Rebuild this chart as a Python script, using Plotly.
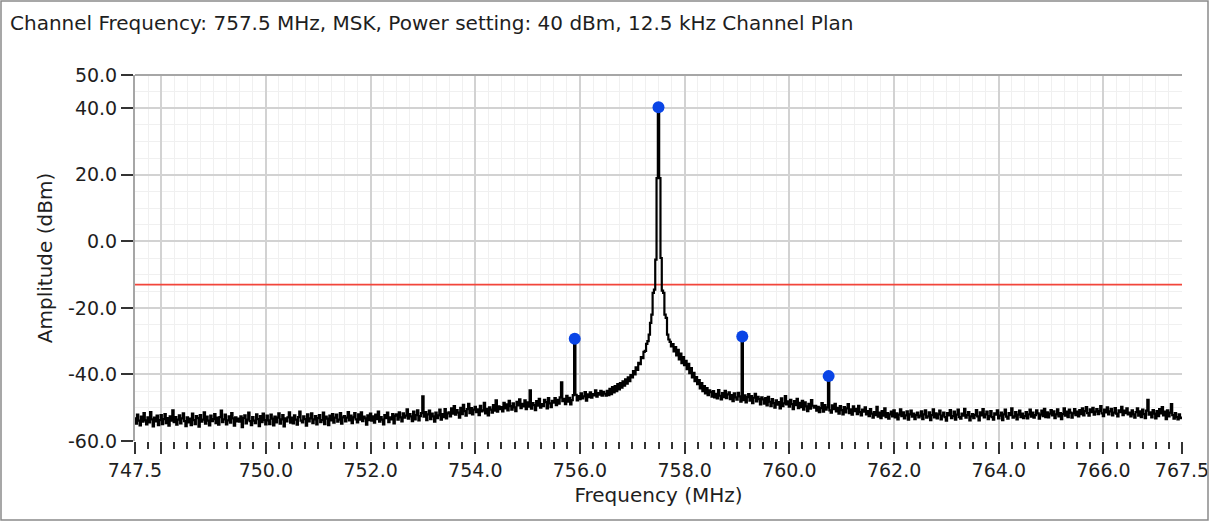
"""Spectrum plot: channel emission with spur markers and limit line."""

import plotly.graph_objects as go

# Sweep definition (MHz) and trace amplitudes (dBm), one value per bin
FREQ_START = 747.5
FREQ_STEP = 0.025

amplitude_dbm = [
    # 747.5 .. 748.475
    -53.2, -54.8, -52.1, -53.9, -55.3, -52.7, -54.2, -51.6, -53.8, -55.0,
    -52.9, -54.4, -51.3, -53.5, -55.6, -53.0, -54.1, -52.4, -55.2, -53.7,
    -52.2, -54.9, -53.4, -51.9, -54.6, -53.1, -55.4, -52.6, -53.9, -50.8,
    -54.3, -52.8, -55.1, -53.6, -52.3, -54.7, -53.2, -51.7, -54.0, -55.5,
    # 748.5 .. 749.475
    -52.9, -54.4, -53.3, -55.2, -51.8, -53.7, -54.9, -52.5, -53.1, -55.7,
    -52.2, -54.2, -53.6, -51.4, -54.8, -52.7, -53.9, -55.3, -52.4, -54.0,
    -53.4, -51.9, -54.6, -53.0, -55.1, -52.8, -50.9, -54.3, -53.5, -52.1,
    -55.0, -53.8, -52.6, -54.5, -51.6, -53.2, -55.4, -52.9, -54.1, -53.3,
    # 749.5 .. 750.475
    -54.2, -52.6, -55.8, -53.1, -52.3, -54.7, -53.6, -51.5, -54.0, -55.2,
    -52.8, -53.9, -54.6, -52.0, -53.4, -55.5, -52.5, -54.3, -51.8, -53.7,
    -55.0, -52.4, -53.8, -54.9, -52.1, -53.3, -55.3, -52.7, -54.4, -53.0,
    -51.7, -54.8, -53.5, -52.2, -55.6, -53.2, -54.1, -52.9, -51.4, -54.5,
    # 750.5 .. 751.475
    -53.0, -54.7, -52.3, -53.6, -55.1, -52.8, -51.2, -53.9, -54.4, -52.6,
    -53.4, -55.4, -52.0, -54.1, -53.2, -51.7, -54.6, -53.5, -52.5, -55.0,
    -53.1, -52.2, -54.3, -53.7, -51.5, -54.9, -52.7, -53.3, -55.2, -52.4,
    -53.8, -51.9, -54.5, -53.0, -52.1, -54.2, -53.6, -51.6, -54.8, -52.9,
    # 751.5 .. 752.475
    -52.5, -54.1, -53.0, -51.3, -53.8, -52.4, -54.6, -52.9, -51.6, -53.5,
    -54.4, -52.0, -53.6, -51.4, -54.0, -52.7, -53.2, -55.1, -52.3, -53.7,
    -51.8, -53.9, -52.6, -54.5, -52.1, -53.4, -51.2, -54.2, -52.8, -53.6,
    -55.0, -52.2, -53.1, -51.5, -54.3, -52.9, -53.5, -51.9, -54.7, -52.4,
    # 752.5 .. 753.475
    -52.0, -53.6, -51.4, -52.9, -54.1, -51.7, -53.0, -52.4, -50.5, -53.3,
    -51.9, -52.6, -54.0, -51.2, -53.5, -52.2, -50.8, -53.8, -52.5, -51.6,
    -46.6, -52.7, -51.3, -53.7, -52.0, -50.9, -53.4, -51.8, -52.6, -54.2,
    -51.5, -53.1, -52.3, -50.6, -53.6, -51.9, -52.8, -50.4, -53.2, -51.7,
    # 753.5 .. 754.475
    -51.4, -52.6, -50.2, -51.8, -49.5, -52.1, -50.7, -51.5, -53.0, -50.0,
    -51.9, -49.1, -51.0, -52.4, -50.4, -48.8, -51.6, -50.1, -52.0, -50.6,
    -49.7, -51.3, -50.5, -52.2, -49.4, -51.1, -50.8, -48.5, -51.7, -50.3,
    -52.3, -49.9, -50.6, -51.5, -49.2, -50.9, -47.8, -51.2, -49.6, -50.4,
    # 754.5 .. 755.475
    -49.8, -51.1, -48.5, -50.2, -49.0, -50.8, -47.9, -49.5, -50.6, -48.7,
    -49.9, -51.0, -48.2, -49.3, -47.5, -50.1, -48.8, -49.6, -47.8, -50.4,
    -48.4, -49.7, -44.8, -50.3, -48.6, -49.2, -50.7, -48.0, -49.4, -47.3,
    -50.0, -48.9, -49.5, -47.6, -48.3, -50.2, -47.1, -48.7, -49.8, -47.9,
    # 755.5 .. 756.475 (spur at 755.9)
    -48.5, -47.1, -49.2, -47.6, -48.8, -46.9, -42.4, -48.0, -47.3, -48.9,
    -46.4, -48.2, -47.0, -49.0, -47.7, -46.2, -29.3, -46.1, -47.8, -46.5,
    -47.4, -45.7, -47.2, -46.6, -45.3, -47.9, -46.0, -46.8, -45.4, -47.0,
    -45.9, -46.3, -44.8, -46.7, -45.6, -46.1, -44.9, -46.4, -45.2, -45.8,
    # 756.5 .. 757.475 (carrier skirt, rising)
    -46.4, -44.9, -46.2, -44.3, -45.9, -43.8, -45.4, -43.5, -45.0, -42.9,
    -44.5, -42.6, -44.0, -42.1, -43.4, -41.5, -42.8, -40.9, -42.0, -40.2,
    -40.9, -39.0, -40.0, -37.9, -38.6, -36.5, -36.9, -34.8, -35.1, -33.2,
    -32.9, -30.8, -30.0, -28.0, -24.5, -22.0, -15.5, -14.5, -5.5, 19.0,
    # 757.5 .. 758.475 (carrier, falling)
    40.3, 19.0, -5.0, -14.8, -15.5, -22.0, -23.0, -28.0, -29.5, -30.2,
    -31.6, -30.9, -33.1, -31.8, -34.3, -32.6, -35.5, -33.7, -36.6, -34.8,
    -37.2, -35.9, -38.4, -36.8, -39.6, -38.1, -40.9, -39.5, -42.0, -40.8,
    -42.9, -41.7, -44.2, -42.6, -45.0, -43.5, -45.7, -44.1, -46.2, -44.8,
    # 758.5 .. 759.475 (spur at 759.1)
    -45.3, -46.7, -45.0, -46.9, -45.8, -47.2, -44.7, -46.4, -47.5, -45.6,
    -46.8, -44.9, -47.1, -46.0, -45.4, -47.4, -46.2, -48.0, -45.7, -46.9,
    -47.6, -45.5, -46.6, -48.2, -28.6, -47.7, -46.3, -48.4, -46.8, -45.9,
    -47.9, -46.5, -48.6, -47.0, -45.8, -48.1, -46.7, -47.4, -49.0, -46.9,
    # 759.5 .. 760.475
    -47.5, -48.8, -47.1, -49.3, -46.7, -48.2, -49.5, -47.4, -48.6, -50.0,
    -47.8, -49.1, -48.3, -50.2, -47.2, -49.5, -48.7, -46.5, -49.0, -48.1,
    -49.7, -47.6, -48.9, -50.4, -48.0, -49.2, -47.3, -50.1, -48.5, -49.8,
    -47.9, -50.6, -48.4, -49.6, -51.0, -48.8, -50.3, -47.7, -49.4, -50.0,
    # 760.5 .. 761.475 (spur at 760.75)
    -49.4, -50.9, -49.7, -51.3, -50.1, -48.6, -51.2, -49.2, -50.6, -49.9,
    -40.5, -50.8, -51.5, -49.3, -50.4, -48.8, -51.1, -50.0, -51.8, -49.5,
    -50.7, -52.0, -49.8, -51.4, -50.2, -48.9, -51.6, -50.5, -52.1, -49.6,
    -51.0, -50.3, -51.9, -49.4, -51.3, -52.3, -50.6, -51.2, -49.9, -52.0,
    # 761.5 .. 762.475
    -51.0, -52.5, -50.4, -51.8, -53.0, -51.3, -52.2, -49.7, -52.7, -51.5,
    -53.1, -51.0, -52.4, -50.2, -52.8, -51.6, -53.3, -52.0, -51.2, -52.6,
    -50.8, -52.9, -51.7, -53.5, -52.1, -50.5, -52.5, -51.4, -53.2, -52.3,
    -51.1, -53.6, -52.0, -50.9, -52.7, -51.8, -53.4, -52.2, -51.5, -52.9,
    # 762.5 .. 763.475
    -52.4, -51.1, -53.4, -52.0, -50.8, -53.0, -52.6, -51.4, -53.7, -52.2,
    -50.5, -52.9, -51.7, -53.2, -52.0, -50.9, -53.5, -52.4, -51.5, -52.8,
    -53.9, -51.6, -52.3, -50.7, -53.1, -52.5, -51.2, -53.6, -52.1, -50.6,
    -52.8, -53.3, -51.8, -52.4, -50.3, -53.0, -52.2, -51.3, -53.8, -52.6,
    # 763.5 .. 764.475
    -51.9, -53.1, -52.2, -50.7, -52.6, -53.8, -51.4, -52.3, -50.4, -52.9,
    -52.0, -51.2, -53.4, -52.5, -51.0, -52.8, -53.6, -51.7, -52.1, -50.8,
    -53.2, -52.4, -51.5, -53.7, -52.0, -50.6, -52.7, -53.3, -51.6, -52.2,
    -50.2, -53.0, -52.6, -51.3, -53.5, -52.1, -50.9, -52.8, -51.8, -53.1,
    # 764.5 .. 765.475
    -52.5, -51.3, -53.2, -52.0, -50.6, -52.7, -51.5, -53.0, -52.2, -50.8,
    -51.7, -53.3, -52.1, -50.9, -52.5, -50.3, -52.8, -51.4, -52.9, -51.8,
    -50.7, -52.3, -51.1, -53.1, -52.0, -50.5, -52.6, -51.6, -53.4, -51.9,
    -50.2, -52.4, -51.2, -52.8, -50.6, -51.5, -53.0, -51.7, -50.4, -52.2,
    # 765.5 .. 766.475
    -51.2, -52.6, -50.7, -51.9, -50.2, -52.3, -51.0, -49.8, -51.6, -52.4,
    -50.5, -51.3, -50.0, -52.1, -51.2, -50.4, -51.9, -51.0, -49.5, -51.7,
    -52.5, -50.6, -51.4, -49.9, -52.0, -51.1, -50.3, -52.3, -51.5, -50.1,
    -51.8, -52.6, -50.8, -51.3, -49.7, -52.2, -50.9, -51.6, -50.2, -52.0,
    # 766.5 .. 767.475
    -51.5, -52.6, -50.8, -52.0, -53.0, -51.3, -50.2, -52.4, -51.1, -52.8,
    -50.6, -51.9, -53.1, -50.9, -47.6, -52.1, -51.4, -52.9, -50.7, -51.8,
    -53.2, -51.0, -52.5, -50.4, -51.7, -49.8, -52.3, -51.2, -53.4, -50.8,
    -52.6, -51.5, -48.9, -52.2, -53.3, -51.6, -52.8, -53.5, -52.0, -53.1,
    # 767.5
    -53.0,
]

# Peak markers
marker_freq_mhz = [755.9, 757.5, 759.1, 760.75]
marker_amp_dbm = [-29.3, 40.3, -28.6, -40.5]

# Emission limit
LIMIT_DBM = -13.0

# Axis ticks
x_tickvals = [747.5, 748, 750, 752, 754, 756, 758, 760, 762, 764, 766, 767.5]
x_ticktext = ["747.5", "", "750.0", "752.0", "754.0", "756.0", "758.0",
              "760.0", "762.0", "764.0", "766.0", "767.5"]
y_tickvals = [-60, -40, -20, 0, 20, 40, 50]
y_ticktext = ["-60.0", "-40.0", "-20.0", "0.0", "20.0", "40.0", "50.0"]

TITLE = "Channel Frequency: 757.5 MHz, MSK, Power setting: 40 dBm, 12.5 kHz Channel Plan"

freq_mhz = [FREQ_START + i * FREQ_STEP for i in range(len(amplitude_dbm))]

FONT = "DejaVu Sans"
TEXT = "#1e1e1e"
W, H = 1211, 522
ML, MR, MT, MB = 135, 29, 75, 81

fig = go.Figure()

fig.add_trace(go.Scatter(
    x=[747.5, 767.5],
    y=[LIMIT_DBM, LIMIT_DBM],
    mode="lines",
    line=dict(color="#f2453a", width=1.6),
    hoverinfo="skip",
))

fig.add_trace(go.Scatter(
    x=freq_mhz, y=amplitude_dbm,
    mode="lines",
    line=dict(color="black", width=2.2, shape="hvh"),
    hoverinfo="skip",
))

fig.add_trace(go.Scatter(
    x=marker_freq_mhz, y=marker_amp_dbm,
    mode="markers",
    marker=dict(color="#0a45e6", size=12, symbol="circle"),
    hoverinfo="skip",
))

# Plot frame top edge and outer picture border
pw = W - ML - MR
ph = H - MT - MB
fig.add_shape(type="line", xref="paper", yref="paper",
              x0=0, x1=1, y0=1, y1=1,
              line=dict(color="#a6a6a6", width=2))
fig.add_shape(type="rect", xref="paper", yref="paper",
              x0=(1 - ML) / pw, x1=(W - 3 - ML) / pw,
              y0=-(H - 2 - MT - ph) / ph, y1=1 + (MT - 1) / ph,
              line=dict(color="#8a8a8a", width=1.5))

fig.update_layout(
    width=W, height=H,
    margin=dict(l=ML, r=MR, t=MT, b=MB, autoexpand=False),
    paper_bgcolor="white",
    plot_bgcolor="white",
    showlegend=False,
    font=dict(family=FONT, size=20, color=TEXT),
    title=dict(text=TITLE, x=10 / W, xanchor="left", xref="container",
               y=1 - 23 / H, yanchor="middle", yref="container",
               font=dict(family=FONT, size=20, color=TEXT)),
    xaxis=dict(
        range=[747.5, 767.5], automargin=False,
        tickmode="array", tickvals=x_tickvals, ticktext=x_ticktext,
        ticks="outside", ticklen=12, tickwidth=1.5, tickcolor="#333333",
        showgrid=True, gridcolor="#d2d2d2", gridwidth=2,
        zeroline=False, showline=False,
        minor=dict(tickmode="linear", tick0=747.5, dtick=0.25,
                   ticks="outside", ticklen=7, tickwidth=1.5,
                   tickcolor="#333333", showgrid=True,
                   gridcolor="#f0f0f0", gridwidth=1),
        title=dict(text="Frequency (MHz)", standoff=8,
                   font=dict(family=FONT, size=20, color=TEXT)),
        tickfont=dict(family=FONT, size=19, color=TEXT),
    ),
    yaxis=dict(
        range=[-60, 50], automargin=False,
        tickmode="array", tickvals=y_tickvals, ticktext=y_ticktext,
        ticks="outside", ticklen=12, tickwidth=1.5, tickcolor="#333333",
        showgrid=True, gridcolor="#d2d2d2", gridwidth=2,
        zeroline=False, showline=True, linecolor="#a6a6a6", linewidth=2,
        minor=dict(tickmode="linear", tick0=0, dtick=5, ticks="",
                   showgrid=True, gridcolor="#f0f0f0", gridwidth=1),
        title=dict(text="Amplitude (dBm)", standoff=10,
                   font=dict(family=FONT, size=20, color=TEXT)),
        tickfont=dict(family=FONT, size=19, color=TEXT),
    ),
)

fig.write_html(
    "out.html",
    config={"displayModeBar": False},
    post_script="document.body.style.margin='0';",
)
